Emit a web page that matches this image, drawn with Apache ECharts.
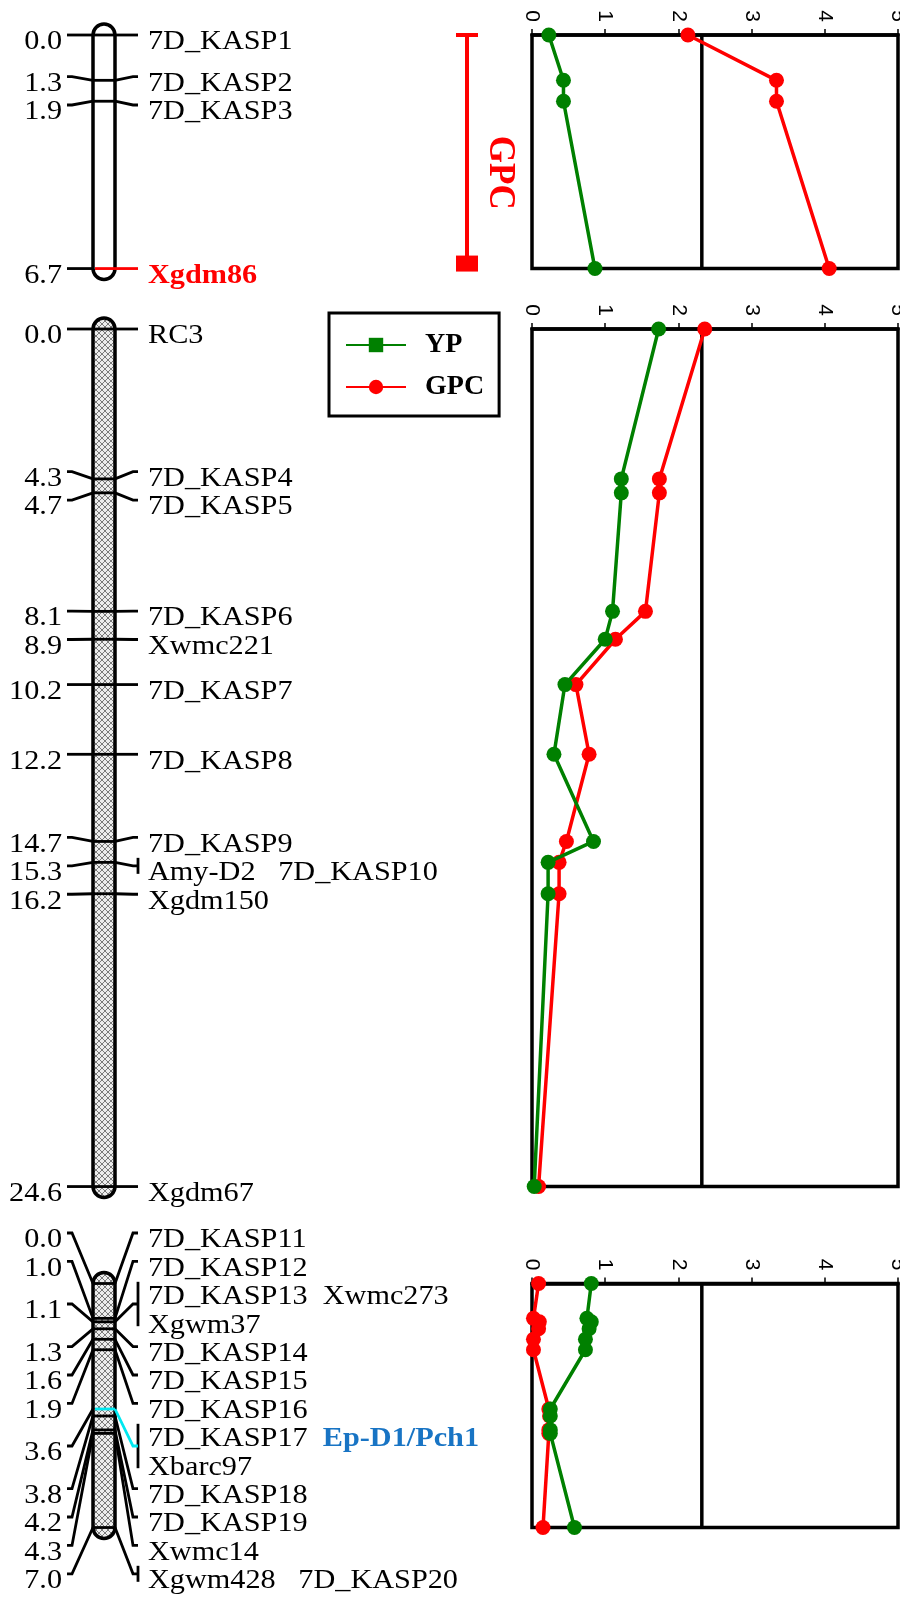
<!DOCTYPE html>
<html>
<head>
<meta charset="utf-8">
<script src="https://cdn.jsdelivr.net/npm/echarts@6/dist/echarts.min.js"></script>
<style>html,body{margin:0;padding:0;background:#fff}#c{width:900px;height:1600px}</style>
</head>
<body>
<div id="c"></div>
<script>
// ================= DATA =================
const lodTicks = [0, 1, 2, 3, 4, 5];
const lodThreshold = 2.32;
const traitNames = ['YP', 'GPC'];

// Segment 1
const c1Pos = [0.0, 1.3, 1.9, 6.7];
const c1Labels = [['7D_KASP1'], ['7D_KASP2'], ['7D_KASP3'], ['Xgdm86']];
const c1YP = [0.23, 0.43, 0.43, 0.86];
const c1GPC = [2.13, 3.34, 3.34, 4.06];
const c1Highlight = 'Xgdm86';
const qtlName = 'GPC';
const qtlStart = 0.0;
const qtlEnd = 6.7;

// Segment 2
const c2Pos = [0.0, 4.3, 4.7, 8.1, 8.9, 10.2, 12.2, 14.7, 15.3, 16.2, 24.6];
const c2Labels = [['RC3'], ['7D_KASP4'], ['7D_KASP5'], ['7D_KASP6'], ['Xwmc221'], ['7D_KASP7'],
  ['7D_KASP8'], ['7D_KASP9'], ['Amy-D2   7D_KASP10'], ['Xgdm150'], ['Xgdm67']];
const c2YP = [1.73, 1.22, 1.22, 1.10, 1.00, 0.45, 0.30, 0.84, 0.22, 0.22, 0.03];
const c2GPC = [2.36, 1.74, 1.74, 1.55, 1.14, 0.60, 0.78, 0.47, 0.37, 0.37, 0.09];

// Segment 3
const c3Pos = [0.0, 1.0, 1.1, 1.3, 1.6, 1.9, 3.6, 3.8, 4.2, 4.3, 7.0];
const c3Labels = [['7D_KASP11'], ['7D_KASP12'], ['7D_KASP13  Xwmc273', 'Xgwm37'], ['7D_KASP14'],
  ['7D_KASP15'], ['7D_KASP16'], ['7D_KASP17', 'Xbarc97'], ['7D_KASP18'], ['7D_KASP19'],
  ['Xwmc14'], ['Xgwm428   7D_KASP20']];
const c3YP = [0.81, 0.75, 0.81, 0.78, 0.73, 0.73, 0.25, 0.25, 0.25, 0.25, 0.58];
const c3GPC = [0.09, 0.02, 0.10, 0.09, 0.02, 0.02, 0.23, 0.24, 0.23, 0.23, 0.15];
const c3Gene = 'Ep-D1/Pch1';
const c3GeneMarker = '7D_KASP17';

// ================= STYLE / LAYOUT =================
const GREEN = '#008000', RED = '#ff0000', BLUE = '#1874c4', CYAN = '#00e8f0';
const SERIF = 'Liberation Serif';
const SANS = 'Liberation Sans';
const PX_PER_CM = 34.86;
const SLOT = 28.4;
const TEXT_DY = 7;
const FS = 28, SX = 1.08;
const X = { num: 62, lc: 67, chL: 93, chR: 115, rc: 138, name: 148, qtl: 467 };
const ROW_TOP = [35, 329, 1283.5];
const LABEL_TOP_LIMIT = [-1e9, -1e9, -64.7];
const PLOT_LEFT = 532, PLOT_W = 366, CHROM_W = 520;
const LW = 3.5;

function makeHatch() {
  const c = document.createElement('canvas');
  c.width = 6; c.height = 6;
  const g = c.getContext('2d');
  g.fillStyle = '#ececec'; g.fillRect(0, 0, 6, 6);
  g.strokeStyle = '#7a7a7a'; g.lineWidth = 1;
  g.beginPath(); g.moveTo(0, 0); g.lineTo(6, 6); g.moveTo(6, 0); g.lineTo(0, 6); g.stroke();
  return c;
}
const hatch = { image: makeHatch(), repeat: 'repeat' };

const chroms = [
  { pos: c1Pos, labels: c1Labels, yp: c1YP, gpc: c1GPC, fill: '#ffffff', highlight: c1Highlight, hiColor: RED },
  { pos: c2Pos, labels: c2Labels, yp: c2YP, gpc: c2GPC, fill: hatch },
  { pos: c3Pos, labels: c3Labels, yp: c3YP, gpc: c3GPC, fill: hatch, gene: c3Gene, geneAt: c3GeneMarker, geneLine: CYAN }
];

// label de-overlap: returns, for each marker group, offsets (px from 0 cM) of its label lines
function layoutLabels(pos, labels, topLimit) {
  const groups = pos.map((p, i) => ({ i, want: p * PX_PER_CM, n: labels[i].length }));
  let blocks = groups.map(g => ({ items: [g], top: 0, n: g.n }));
  const place = b => {
    let cum = 0, s = 0, w = 0;
    b.items.forEach(g => { const off = (cum + g.n / 2) * SLOT; s += g.n * (g.want - off); w += g.n; cum += g.n; });
    b.n = cum;
    b.top = Math.max(s / w, topLimit);
  };
  blocks.forEach(place);
  let changed = true;
  while (changed) {
    changed = false;
    for (let k = 0; k < blocks.length - 1; k++) {
      const a = blocks[k], b = blocks[k + 1];
      if (b.top < a.top + a.n * SLOT - 1e-6) {
        const m = { items: a.items.concat(b.items) };
        place(m);
        blocks.splice(k, 2, m);
        changed = true;
        break;
      }
    }
  }
  const out = [];
  blocks.forEach(b => {
    let cum = 0;
    b.items.forEach(g => {
      const arr = [];
      for (let j = 0; j < g.n; j++) arr.push(b.top + (cum + j + 0.5) * SLOT);
      out[g.i] = arr;
      cum += g.n;
    });
  });
  return out;
}

function words(l) { return l.trim().split(/\s+/); }

function txt(x, y, text, extra) {
  return {
    type: 'text', x: x, y: y, scaleX: SX, z2: 10,
    style: Object.assign({ text: text, fontSize: FS, fontFamily: SERIF, fill: '#000',
      align: 'left', verticalAlign: 'middle' }, extra || {})
  };
}

function markerRender(ch, lay) {
  return function (params, api) {
    const i = api.value(2);
    const p = api.coord([0, api.value(1)]);
    const o = api.coord([0, 0]);
    const gx = o[0], y = p[1], y0 = o[1];
    const lines = lay[i].map(v => y0 + v);
    const gc = (lines[0] + lines[lines.length - 1]) / 2;
    const names = ch.labels[i];
    const isHi = ch.highlight && names.some(l => words(l).includes(ch.highlight));
    const hasGene = ch.geneAt && names.some(l => words(l).includes(ch.geneAt));
    const lineColor = isHi ? ch.hiColor : (hasGene ? ch.geneLine : '#000');
    const nMarkers = names.reduce((s, l) => s + words(l).length, 0);
    const kids = [];
    kids.push({ type: 'line', z2: 5, shape: { x1: gx + X.chL + (isHi || hasGene ? 2 : 0), y1: y, x2: gx + X.chR, y2: y },
      style: { stroke: lineColor, lineWidth: 2.8 } });
    kids.push({ type: 'polyline', shape: { points: [[gx + X.lc, gc], [gx + X.lc + 5, gc], [gx + X.chL, y]] },
      style: { stroke: '#000', lineWidth: 2.8, fill: null } });
    kids.push(txt(gx + X.num, gc + TEXT_DY, api.value(1).toFixed(1), { align: 'right' }));
    if (nMarkers > 1) {
      kids.push({ type: 'line', shape: { x1: gx + X.rc, y1: lines[0] - 8, x2: gx + X.rc, y2: lines[lines.length - 1] + 8 },
        style: { stroke: '#000', lineWidth: 2.8 } });
    }
    kids.push({ type: 'polyline', z2: 6, shape: { points: [[gx + X.chR, y], [gx + X.rc - 5, gc], [gx + X.rc, gc]] },
      style: { stroke: lineColor, lineWidth: 2.8, fill: null } });
    names.forEach((l, j) => {
      if (isHi && words(l).includes(ch.highlight)) {
        kids.push(txt(gx + X.name, lines[j] + TEXT_DY, l, { fontWeight: 'bold', fill: ch.hiColor }));
      } else if (hasGene && words(l).includes(ch.geneAt)) {
        kids.push(txt(gx + X.name, lines[j] + TEXT_DY, '{a|' + l + '}  {b|' + ch.gene + '}', {
          rich: {
            a: { fontSize: FS, fontFamily: SERIF, fill: '#000' },
            b: { fontSize: FS, fontFamily: SERIF, fontWeight: 'bold', fill: BLUE }
          }
        }));
      } else {
        kids.push(txt(gx + X.name, lines[j] + TEXT_DY, l));
      }
    });
    return { type: 'group', children: kids };
  };
}

function bodyRender(fill) {
  return function (params, api) {
    const a = api.coord([0, 0]);
    const b = api.coord([0, api.value(1)]);
    const R = (X.chR - X.chL) / 2;
    return {
      type: 'rect',
      shape: { x: a[0] + X.chL, y: a[1] - R, width: X.chR - X.chL, height: b[1] - a[1] + 2 * R, r: R },
      style: { fill: fill, stroke: '#000', lineWidth: LW }
    };
  };
}

function qtlRender(params, api) {
  const a = api.coord([0, api.value(1)]);
  const b = api.coord([0, api.value(2)]);
  const x = a[0] + X.qtl;
  return {
    type: 'group', children: [
      { type: 'line', shape: { x1: x, y1: a[1], x2: x, y2: b[1] - 5 }, style: { stroke: RED, lineWidth: 4 } },
      { type: 'line', shape: { x1: x - 11, y1: a[1], x2: x + 11, y2: a[1] }, style: { stroke: RED, lineWidth: 4 } },
      { type: 'rect', shape: { x: x - 11, y: b[1] - 13, width: 22, height: 16 }, style: { fill: RED } },
      { type: 'text', x: x + 33, y: (a[1] + b[1]) / 2 + 21, rotation: -Math.PI / 2, scaleY: 1.08,
        style: { text: qtlName, align: 'center', verticalAlign: 'middle', fontSize: 35, fontWeight: 'bold',
          fontFamily: SERIF, fill: RED } }
    ]
  };
}

const grids = [], xAxes = [], yAxes = [];
const series = [];

// legend proxy (square marker icon for YP)
series.push({ type: 'line', name: traitNames[0], xAxisIndex: 1, yAxisIndex: 1, data: [],
  symbol: 'rect', color: GREEN, itemStyle: { color: GREEN }, lineStyle: { color: GREEN, width: LW } });

chroms.forEach((ch, k) => {
  const len = ch.pos[ch.pos.length - 1];
  const h = len * PX_PER_CM;
  const ci = 2 * k, pi = 2 * k + 1;
  grids.push({ left: 0, top: ROW_TOP[k], width: CHROM_W, height: h, outerBoundsMode: 'none' });
  grids.push({ left: PLOT_LEFT, top: ROW_TOP[k], width: PLOT_W, height: h, show: true,
    borderColor: '#000', borderWidth: LW, backgroundColor: '#fff', outerBoundsMode: 'none' });
  xAxes.push({ gridIndex: ci, type: 'value', min: 0, max: CHROM_W, show: false });
  xAxes.push({ gridIndex: pi, type: 'value', position: 'top',
    min: lodTicks[0], max: lodTicks[lodTicks.length - 1], interval: lodTicks[1] - lodTicks[0],
    axisLine: { show: true, lineStyle: { color: '#000', width: LW } },
    axisTick: { show: true, inside: false, length: 6, lineStyle: { color: '#000', width: 1.5 } },
    axisLabel: { show: true, rotate: -90, margin: 13, fontSize: 21, fontFamily: SANS, color: '#000' },
    splitLine: { show: false } });
  yAxes.push({ gridIndex: ci, type: 'value', inverse: true, min: 0, max: len, show: false });
  yAxes.push({ gridIndex: pi, type: 'value', inverse: true, min: 0, max: len, show: false });

  const lay = layoutLabels(ch.pos, ch.labels, LABEL_TOP_LIMIT[k]);
  series.push({ type: 'custom', xAxisIndex: ci, yAxisIndex: ci, z: 2, silent: true, clip: false,
    renderItem: bodyRender(ch.fill), data: [[0, len]] });
  series.push({ type: 'custom', xAxisIndex: ci, yAxisIndex: ci, z: 3, silent: true, clip: false,
    renderItem: markerRender(ch, lay), data: ch.pos.map((p, i) => [0, p, i]) });
  series.push({ type: 'line', xAxisIndex: pi, yAxisIndex: pi, silent: true, symbol: 'none', z: 2,
    lineStyle: { color: '#000', width: LW }, data: [[lodThreshold, 0], [lodThreshold, len]] });
  series.push({ type: 'line', name: traitNames[1], xAxisIndex: pi, yAxisIndex: pi, z: 3,
    symbol: 'circle', symbolSize: 15, color: RED, itemStyle: { color: RED },
    lineStyle: { color: RED, width: LW }, data: ch.pos.map((p, i) => [ch.gpc[i], p]) });
  series.push({ type: 'line', name: traitNames[0], xAxisIndex: pi, yAxisIndex: pi, z: 4,
    symbol: 'circle', symbolSize: 15, color: GREEN, itemStyle: { color: GREEN },
    lineStyle: { color: GREEN, width: LW }, data: ch.pos.map((p, i) => [ch.yp[i], p]) });
});

series.push({ type: 'custom', xAxisIndex: 0, yAxisIndex: 0, z: 2, silent: true, clip: false,
  renderItem: qtlRender, data: [[0, qtlStart, qtlEnd]] });

const chart = echarts.init(document.getElementById('c'), null, { renderer: 'canvas' });
chart.setOption({
  animation: false,
  backgroundColor: '#fff',
  grid: grids, xAxis: xAxes, yAxis: yAxes,
  legend: {
    data: traitNames, orient: 'vertical', left: 329, top: 313,
    padding: [18, 15, 15, 16], itemGap: 14, itemWidth: 60, itemHeight: 18,
    borderColor: '#000', borderWidth: 3, backgroundColor: '#fff',
    formatter: n => '  ' + n,
    textStyle: { fontFamily: SERIF, fontWeight: 'bold', fontSize: 28, color: '#000' },
    selectedMode: false
  },
  series: series
});
</script>
</body>
</html>
